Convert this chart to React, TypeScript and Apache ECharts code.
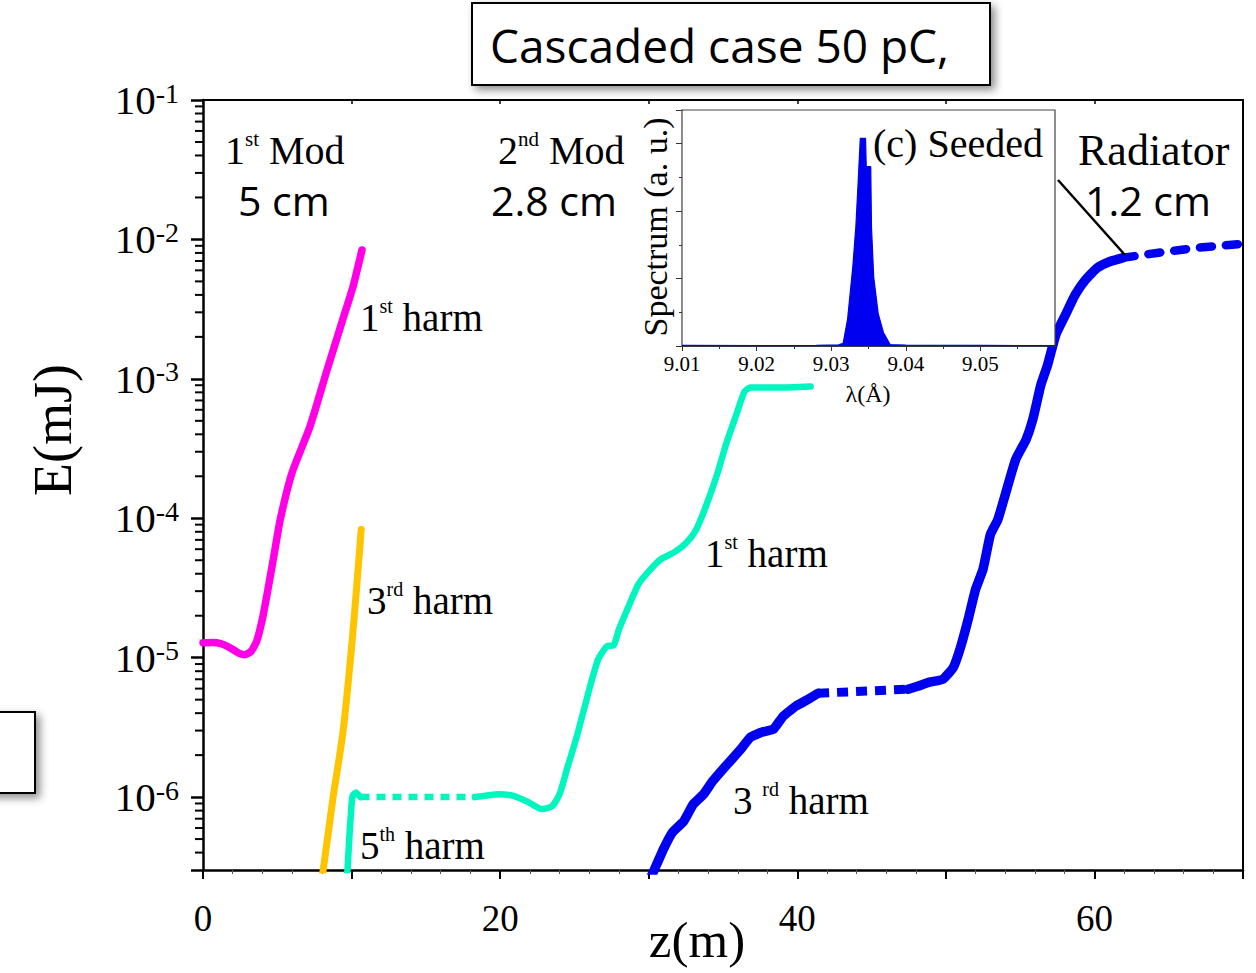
import React, { useEffect, useRef } from 'react';
import * as echarts from 'echarts';

const SERIF = '"Liberation Serif", "Times New Roman", serif';
const SANS = '"Open Sans", "Liberation Sans", sans-serif';

// ---- main plot: pulse energy E (mJ) along the undulator line z (m) ----
// 1st modulator, fundamental
const mod1Harm1: [number, number][] = [
  [0, 1.28e-5], [0.6, 1.285e-5], [1.2, 1.26e-5], [1.8, 1.18e-5], [2.4, 1.08e-5],
  [2.8, 1.05e-5], [3.2, 1.1e-5], [3.6, 1.3e-5], [4.0, 1.9e-5], [4.3, 2.8e-5],
  [4.8, 5.6e-5], [5.2, 9.8e-5], [6.0, 2.13e-4], [7.2, 4.55e-4], [8.3, 1.11e-3],
  [9.4, 2.65e-3], [10.1, 4.6e-3], [10.7, 8.4e-3],
];
// 1st modulator, 3rd harmonic
const mod1Harm3: [number, number][] = [
  [7.9, 2.4e-7], [8.07, 2.9e-7], [8.74, 9.7e-7], [9.42, 2.92e-6], [10.09, 1.52e-5], [10.65, 8.3e-5],
];
// 1st modulator, 5th harmonic
const mod1Harm5: [number, number][] = [
  [9.66, 2.6e-7], [9.73, 3.05e-7], [9.87, 5.6e-7], [10.0, 8.8e-7], [10.08, 1.03e-6],
  [10.3, 1.08e-6], [10.6, 1.0e-6],
];
// drift between 1st and 2nd modulator (dotted)
const drift1: [number, number][] = [[10.6, 1.0e-6], [18.3, 1.0e-6]];
// 2nd modulator, fundamental
const mod2Harm1: [number, number][] = [
  [18.3, 1.0e-6], [19.9, 1.05e-6], [20.9, 1.02e-6], [21.9, 9.2e-7], [22.8, 8.2e-7],
  [23.5, 8.6e-7], [24.0, 1.05e-6], [24.5, 1.59e-6], [25.2, 2.82e-6], [26.0, 5.94e-6],
  [26.6, 9.75e-6], [27.2, 1.21e-5], [27.65, 1.23e-5], [28.0, 1.6e-5], [28.7, 2.41e-5],
  [29.3, 3.36e-5], [30.0, 4.16e-5], [30.8, 5.07e-5], [31.7, 5.69e-5], [32.55, 6.71e-5],
  [33.2, 8.32e-5], [33.9, 1.26e-4], [34.6, 2.06e-4], [35.2, 3.38e-4], [35.9, 5.55e-4],
  [36.45, 8.1e-4], [36.85, 8.65e-4], [38.7, 8.65e-4], [40.9, 8.8e-4],
];
// 2nd modulator, 3rd harmonic
const mod2Harm3: [number, number][] = [
  [30.1, 2.6e-7], [30.34, 2.95e-7], [31.0, 4.25e-7], [31.6, 5.6e-7], [32.35, 6.7e-7],
  [33.0, 8.9e-7], [33.7, 1.05e-6], [34.3, 1.3e-6], [35.0, 1.59e-6], [35.6, 1.87e-6],
  [36.2, 2.21e-6], [36.85, 2.69e-6], [37.6, 2.92e-6], [38.4, 3.07e-6], [39.05, 3.8e-6],
  [39.9, 4.49e-6], [40.75, 5.04e-6], [41.4, 5.56e-6],
];
// drift between 2nd modulator and radiator (dotted)
const drift2: [number, number][] = [[41.4, 5.56e-6], [47.45, 5.94e-6]];
// radiator
const radiator: [number, number][] = [
  [47.45, 5.94e-6], [48.1, 6.24e-6], [48.9, 6.67e-6], [49.8, 7.0e-6], [50.5, 8.5e-6],
  [50.95, 1.15e-5], [51.5, 1.88e-5], [52.0, 3.09e-5], [52.5, 4.3e-5], [53.0, 7.65e-5],
  [53.5, 9.8e-5], [54.0, 1.48e-4], [54.7, 2.64e-4], [55.4, 3.67e-4], [55.85, 5.1e-4],
  [56.4, 9.1e-4], [56.85, 1.26e-3], [57.4, 2.07e-3], [58.05, 2.88e-3], [58.7, 4.0e-3],
  [59.4, 5.14e-3], [60.2, 6.26e-3], [61.0, 6.92e-3], [61.9, 7.38e-3],
];
// radiator saturation tail (dashed)
const radiatorTail: [number, number][] = [[61.9, 7.38e-3], [64.2, 8.0e-3], [66.9, 8.7e-3], [70, 9.3e-3]];

const xTickLabels = [0, 20, 40, 60];
const yExponents = [-6, -5, -4, -3, -2, -1];
// logarithmic minor ticks: mantissa 2..9 of each decade inside the axis range
const yMinorMantissas = [2, 3, 4, 5, 6, 7, 8, 9];
const yMinorDecades = [-7, -6, -5, -4, -3, -2];
const Y_MIN = 3e-7;
const Y_MAX = 0.1;
const yMinorTicks: number[] = [];
yMinorDecades.forEach((d) =>
  yMinorMantissas.forEach((m) => {
    const v = m * Math.pow(10, d);
    if (v > Y_MIN * 1.001 && v < Y_MAX) yMinorTicks.push(v);
  }),
);

// ---- inset: seeded output spectrum ----
const specLambda = [
  9.01, 9.02, 9.028, 9.031, 9.0316, 9.0322, 9.0329, 9.0333, 9.0336, 9.0339, 9.0346,
  9.0347, 9.0353, 9.0354, 9.0357, 9.0363, 9.037, 9.0379, 9.04, 9.05, 9.06,
];
const specIntensity = [
  0.004, 0.003, 0.005, 0.008, 0.02, 0.2, 0.59, 0.88, 1.2, 1.54, 1.54,
  1.33, 1.33, 0.88, 0.51, 0.24, 0.1, 0.01, 0.006, 0.004, 0.003,
];
const insetTickLabels = ['9.01', '9.02', '9.03', '9.04', '9.05'];

const MAGENTA = '#ff00e6';
const GOLD = '#ffc400';
const AQUA = '#00f5bf';
const BLUE = '#0000f0';

function curve(data: [number, number][], color: string, width: number, extra: any = {}) {
  return {
    type: 'line',
    xAxisIndex: 0,
    yAxisIndex: 0,
    data,
    symbol: 'none',
    showSymbol: false,
    silent: true,
    smooth: extra.smooth !== undefined ? extra.smooth : 0.2,
    z: 3,
    lineStyle: { color, width, cap: 'round', join: 'round', ...(extra.lineStyle || {}) },
  };
}

const serifRich = (size: number) => ({
  n: { fontFamily: SERIF, fontSize: size, color: '#000', lineHeight: size + 4 },
  s: { fontFamily: SERIF, fontSize: Math.round(size * 0.52), color: '#000', verticalAlign: 'top', lineHeight: Math.round(size * 0.75) },
});

function supLabel(x: number, y: number, text: string, size = 40) {
  return {
    type: 'text',
    x,
    y,
    z: 20,
    style: { text, rich: serifRich(size), align: 'left', verticalAlign: 'middle' },
  };
}

function plainText(x: number, y: number, text: string, size: number, family: string, extra: any = {}) {
  const { align, ...rest } = extra;
  return {
    type: 'text',
    x,
    y,
    z: 20,
    ...rest,
    style: { text, fontSize: size, fontFamily: family, fill: '#000', align: align || 'left', verticalAlign: 'middle' },
  };
}

const shadow = { shadowBlur: 8, shadowOffsetX: 4, shadowOffsetY: 4, shadowColor: 'rgba(0,0,0,0.45)' };

const graphics: any[] = [
  // heading box
  {
    type: 'rect', z: 10,
    shape: { x: 472, y: 3, width: 518, height: 82 },
    style: { fill: '#fff', stroke: '#000', lineWidth: 2, ...shadow },
  },
  plainText(490, 45, 'Cascaded case 50 pC,', 46, SANS),
  // box cut at the left edge
  {
    type: 'rect', z: 10,
    shape: { x: -20, y: 712, width: 55, height: 81 },
    style: { fill: '#fff', stroke: '#000', lineWidth: 2, ...shadow },
  },
  // section names and lengths
  supLabel(225, 150, '{n|1}{s|st}{n| Mod}', 40),
  plainText(238, 200, '5 cm', 41, SANS),
  supLabel(498, 150, '{n|2}{s|nd}{n| Mod}', 40),
  plainText(491, 200, '2.8 cm', 41, SANS),
  plainText(1078, 150, 'Radiator', 44, SERIF),
  plainText(1085, 200, '1.2 cm', 41, SANS),
  {
    type: 'line', z: 20,
    shape: { x1: 1058, y1: 180, x2: 1125, y2: 255 },
    style: { stroke: '#000', lineWidth: 2.5 },
  },
  // curve labels
  supLabel(360, 317, '{n|1}{s|st}{n| harm}', 39),
  supLabel(367, 600, '{n|3}{s|rd}{n| harm}', 39),
  supLabel(360, 845, '{n|5}{s|th}{n| harm}', 39),
  supLabel(705, 553, '{n|1}{s|st}{n| harm}', 39),
  supLabel(733, 800, '{n|3 }{s|rd}{n| harm}', 39),
  // axis names
  plainText(53, 430, 'E(mJ)', 54, SERIF, { rotation: Math.PI / 2, align: 'center' }),
  plainText(697, 940, 'z(m)', 51, SERIF, { align: 'center' }),
  // inset texts
  plainText(873, 143, '(c) Seeded', 40, SERIF),
  plainText(655, 227, 'Spectrum (a. u.)', 34, SERIF, { rotation: Math.PI / 2, align: 'center' }),
  plainText(868, 394, 'λ(Å)', 24, SERIF, { align: 'center' }),
];

const option: any = {
  animation: false,
  backgroundColor: '#fff',
  grid: [
    { left: 203, top: 100, right: 13, bottom: 103, show: false },
    { left: 682, top: 110, width: 373, height: 236, show: true, backgroundColor: '#fff', borderColor: '#444', borderWidth: 1.2, z: 5 },
  ],
  xAxis: [
    {
      type: 'value', gridIndex: 0, min: 0, max: 70, interval: 10,
      axisLine: { show: true, onZero: false, lineStyle: { color: '#000', width: 2.5 } },
      axisTick: { show: true, length: 9, lineStyle: { color: '#000', width: 2 } },
      minorTick: { show: true, splitNumber: 5, length: 4, lineStyle: { color: '#555', width: 1 } },
      splitLine: { show: false },
      axisLabel: {
        margin: 30, color: '#000', fontFamily: SERIF, fontSize: 37,
        formatter: (v: number) => (xTickLabels.includes(v) ? String(v) : ''),
      },
    },
    {
      type: 'value', gridIndex: 0, position: 'top', min: 0, max: 70, interval: 10,
      axisLine: { show: true, onZero: false, lineStyle: { color: '#000', width: 2 } },
      axisTick: { show: true, inside: true, length: 4, lineStyle: { color: '#000', width: 1.5 } },
      axisLabel: { show: false },
      splitLine: { show: false },
    },
    {
      type: 'value', gridIndex: 1, min: 9.01, max: 9.06, interval: 0.01,
      axisLine: { show: true, onZero: false, lineStyle: { color: '#333', width: 1.2 } },
      axisTick: { show: true, length: 5, lineStyle: { color: '#333', width: 1 } },
      minorTick: { show: true, splitNumber: 2, length: 3, lineStyle: { color: '#333', width: 1 } },
      splitLine: { show: false },
      axisLabel: {
        margin: 7, color: '#000', fontFamily: SERIF, fontSize: 21,
        formatter: (v: number) => {
          const s = v.toFixed(2);
          return insetTickLabels.includes(s) ? s : '';
        },
      },
    },
  ],
  yAxis: [
    {
      type: 'log', gridIndex: 0, logBase: 10, min: Y_MIN, max: Y_MAX,
      axisLine: { show: true, onZero: false, lineStyle: { color: '#000', width: 2.5 } },
      axisTick: { show: true, length: 12, lineStyle: { color: '#000', width: 2.5 } },
      splitLine: { show: false },
      axisLabel: {
        margin: 24,
        formatter: (v: number) => {
          const e = Math.log10(v);
          const r = Math.round(e);
          if (Math.abs(e - r) > 1e-6 || !yExponents.includes(r)) return '';
          return `{b|10}{s|${r}}`;
        },
        rich: {
          b: { fontFamily: SERIF, fontSize: 41, color: '#000', lineHeight: 42 },
          s: { fontFamily: SERIF, fontSize: 28, color: '#000', verticalAlign: 'top', lineHeight: 26 },
        },
      },
    },
    {
      type: 'log', gridIndex: 0, logBase: 10, min: Y_MIN, max: Y_MAX, position: 'right',
      axisLine: { show: true, onZero: false, lineStyle: { color: '#000', width: 2 } },
      axisTick: { show: false },
      axisLabel: { show: false },
      splitLine: { show: false },
    },
    {
      type: 'value', gridIndex: 1, min: 0, max: 1.75, interval: 0.5,
      axisLine: { show: true, onZero: false, lineStyle: { color: '#333', width: 1.2 } },
      axisTick: { show: true, length: 6, lineStyle: { color: '#333', width: 1 } },
      minorTick: { show: true, splitNumber: 2, length: 3, lineStyle: { color: '#333', width: 1 } },
      axisLabel: { show: false },
      splitLine: { show: false },
    },
  ],
  series: [
    curve(mod1Harm1, MAGENTA, 7.5),
    curve(mod1Harm3, GOLD, 7),
    curve(mod1Harm5, AQUA, 6.5, { smooth: 0.1 }),
    curve(drift1, AQUA, 6.5, { smooth: false, lineStyle: { type: [9, 7], cap: 'butt' } }),
    curve(mod2Harm1, AQUA, 6.5),
    curve(mod2Harm3, BLUE, 9.5, { smooth: 0.1 }),
    curve(drift2, BLUE, 9, { smooth: false, lineStyle: { type: [11, 8], cap: 'butt' } }),
    curve(radiator, BLUE, 9.5, { smooth: 0.15 }),
    curve(radiatorTail, BLUE, 8.5, { smooth: false, lineStyle: { type: [12, 14], cap: 'round' } }),
    {
      type: 'line',
      xAxisIndex: 2,
      yAxisIndex: 2,
      data: specLambda.map((l, i) => [l, specIntensity[i]]),
      symbol: 'none',
      silent: true,
      z: 6,
      lineStyle: { color: BLUE, width: 1.2 },
      areaStyle: { color: BLUE, opacity: 1 },
    },
  ],
  graphic: graphics,
};

export default function App() {
  const ref = useRef<HTMLDivElement>(null);
  useEffect(() => {
    const chart = echarts.init(ref.current!, null, { renderer: 'svg' });
    chart.setOption(option);
    // minor ticks of the log energy axis, positioned by the axis' own scale
    const x0 = chart.convertToPixel({ xAxisIndex: 0 }, 0) as number;
    const minorTicks = yMinorTicks.map((v) => {
      const y = chart.convertToPixel({ yAxisIndex: 0 }, v) as number;
      return {
        type: 'line',
        z: 30,
        silent: true,
        shape: { x1: x0 - 8, y1: y, x2: x0, y2: y },
        style: { stroke: '#000', lineWidth: 2 },
      };
    });
    chart.setOption({ graphic: [...graphics, ...minorTicks] });
    return () => chart.dispose();
  }, []);
  return (
    <div
      ref={ref}
      style={{ position: 'absolute', left: 0, top: 0, width: 1256, height: 973, background: '#fff' }}
    />
  );
}
